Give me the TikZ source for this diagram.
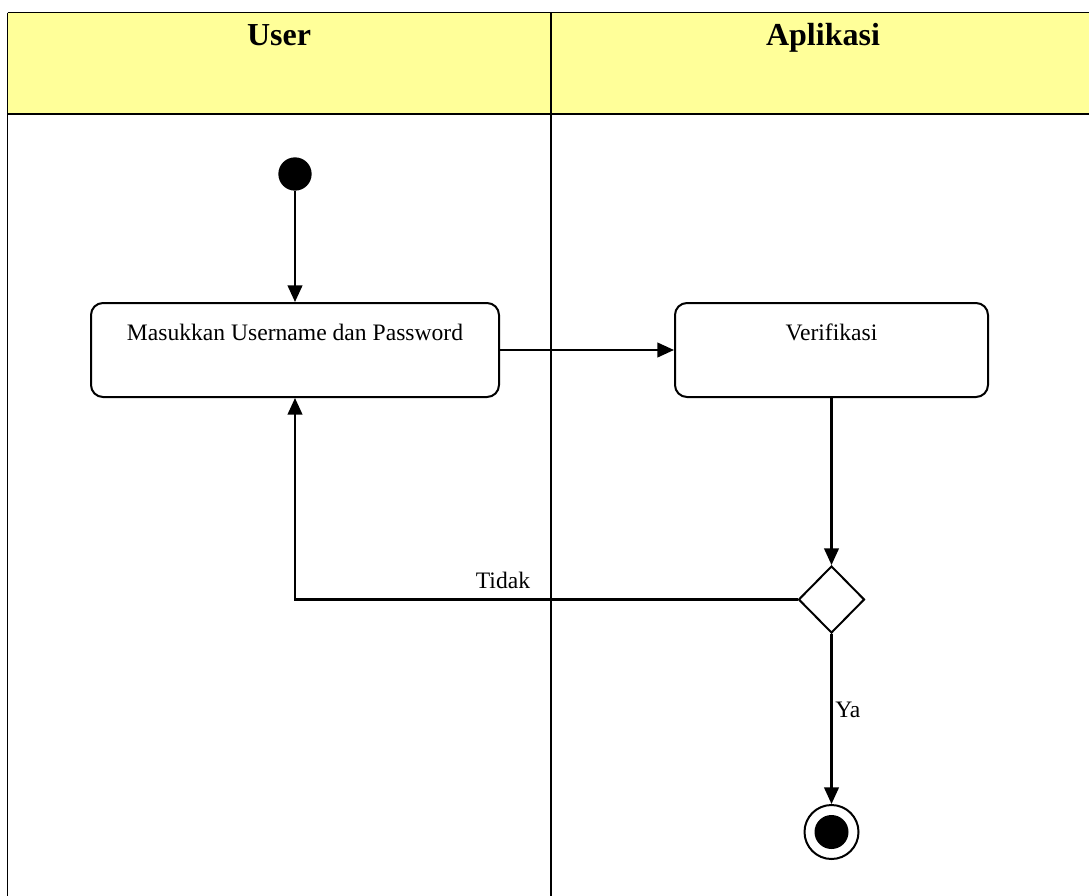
\documentclass[tikz,border=0pt]{standalone}
\usepackage{fontspec}
\setmainfont{Liberation Serif}
\usetikzlibrary{arrows.meta,shapes.geometric}
\definecolor{laneyellow}{RGB}{255,255,153}
\tikzset{
  lane/.style={line width=0.9pt, draw=black},
  actbox/.style={draw, line width=1.5pt, rounded corners=9pt, minimum height=70.5pt, inner sep=0pt},
  flow/.style={line width=1.6pt, -{Triangle[length=12.5pt, width=11pt]}},
  lbl/.style={font=\fontsize{17.7pt}{20pt}\selectfont, inner sep=0pt},
  head/.style={font=\fontsize{24pt}{28pt}\selectfont\bfseries, inner sep=0pt, anchor=base},
  startdot/.style={circle, fill=black, minimum size=25pt, inner sep=0pt},
  endring/.style={circle, draw, line width=1.5pt, minimum size=40.5pt, inner sep=0pt},
  enddot/.style={circle, fill=black, minimum size=25.5pt, inner sep=0pt},
  decision/.style={diamond, draw, line width=1.5pt, minimum width=49.5pt, minimum height=50.25pt, inner sep=0pt, fill=white},
}
\begin{document}
\begin{tikzpicture}[x=0.75pt, y=-0.75pt]
\useasboundingbox (0,0) rectangle (1089,896);

% swimlane header and lane borders
\fill[laneyellow] (7.5,12.5) rectangle (1089,114);
\draw[lane] (7.5,12.5) -- (1089,12.5);
\draw[lane] (7.5,114) -- (1089,114);
\draw[lane] (7.5,12.5) -- (7.5,896);
\draw[lane] (551,12.5) -- (551,896);
\node[head] (huser) at (279,45) {User};
\node[head] (happ) at (823,45) {Aplikasi};

% activity nodes
\node[startdot] (start) at (295,174) {};
\node[actbox, minimum width=306pt] (masuk) at (295,350) {};
\node[lbl, anchor=base] (masuktxt) at (295,340) {Masukkan Username dan Password};
\node[actbox, minimum width=234.75pt] (verif) at (831.5,350) {};
\node[lbl, anchor=base] (veriftxt) at (831.5,340) {Verifikasi};
\node[decision] (dec) at (831.5,599.5) {};
\node[endring] (stop) at (831.5,832) {};
\node[enddot] (stopdot) at (stop) {};

% transitions
\draw[flow] (start) -- (masuk.north);
\draw[flow] (masuk.east) -- (verif.west);
\draw[flow] (verif.south) -- (dec.north);
\draw[flow] (dec.west) -| (masuk.south);
\draw[flow] (dec.south) -- (stop.north);

% guard labels
\node[lbl, anchor=base] (tidak) at (503,588) {Tidak};
\node[lbl, anchor=base west] (ya) at (835,717) {Ya};
\end{tikzpicture}
\end{document}
